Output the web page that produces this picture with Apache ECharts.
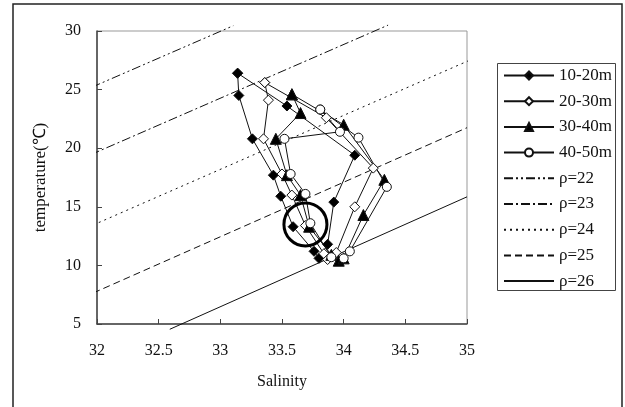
<!DOCTYPE html>
<html>
<head>
<meta charset="utf-8">
<script src="https://cdn.jsdelivr.net/npm/echarts@6/dist/echarts.min.js"></script>
<style>
  html, body { margin: 0; padding: 0; background: #fff; }
  #chart { width: 625px; height: 407px; }
</style>
</head>
<body>
<div id="chart"></div>
<script>
// T-S diagram: station loops per depth layer, with isopycnals (sigma-t lines)

const layerNames = ['10-20m', '20-30m', '30-40m', '40-50m'];

// salinity / temperature per layer (closed loops)
const sal10  = [33.14, 33.15, 33.26, 33.43, 33.49, 33.59, 33.76, 33.80, 33.87, 33.92, 34.09, 33.54, 33.14];
const temp10 = [26.4, 24.5, 20.8, 17.7, 15.9, 13.3, 11.2, 10.6, 11.8, 15.4, 19.4, 23.6, 26.4];

const sal20  = [33.36, 33.39, 33.35, 33.50, 33.58, 33.69, 33.84, 33.87, 33.94, 34.09, 34.24, 33.86, 33.36];
const temp20 = [25.6, 24.1, 20.8, 17.8, 16.0, 13.4, 11.0, 10.5, 11.1, 15.0, 18.3, 22.6, 25.6];

const sal30  = [33.58, 33.65, 33.45, 33.54, 33.65, 33.72, 33.90, 33.96, 34.00, 34.16, 34.33, 34.00, 33.58];
const temp30 = [24.6, 23.0, 20.8, 17.7, 16.0, 13.3, 10.9, 10.4, 10.6, 14.3, 17.3, 22.0, 24.6];

const sal40  = [33.81, 34.12, 34.35, 34.05, 34.00, 33.90, 33.73, 33.69, 33.57, 33.52, 33.97, 33.81];
const temp40 = [23.3, 20.9, 16.7, 11.2, 10.6, 10.7, 13.6, 16.1, 17.8, 20.8, 21.4, 23.3];

// isopycnal lines: end points (salinity, temperature)
const rhoNames = ['ρ=22', 'ρ=23', 'ρ=24', 'ρ=25', 'ρ=26'];
const rhoSal  = [[31.957, 33.105], [31.95, 34.36], [31.97, 35.02], [31.97, 35.0], [32.59, 35.0]];
const rhoTemp = [[25.2, 30.45], [19.45, 30.5], [13.45, 27.5], [7.65, 21.75], [4.55, 15.85]];

// highlighted water mass
const markSal = [33.69];
const markTemp = [13.5];

// axis ticks
const salTicks = [32, 32.5, 33, 33.5, 34, 34.5, 35];
const tempTicks = [5, 10, 15, 20, 25, 30];

const zip = (a, b) => a.map((v, i) => [v, b[i]]);
const FONT = 'Liberation Serif';

const layerStyles = [
  { symbol: 'diamond', size: 10, fill: '#000' },
  { symbol: 'diamond', size: 10, fill: '#fff' },
  { symbol: 'triangle', size: 11, fill: '#000' },
  { symbol: 'circle', size: 9, fill: '#fff' }
];
const layerData = [zip(sal10, temp10), zip(sal20, temp20), zip(sal30, temp30), zip(sal40, temp40)];

const rhoDash = [
  [9, 3, 2, 3, 2, 3],
  [9, 3, 2, 3],
  [2, 4],
  [7, 4],
  'solid'
];

const series = [];
rhoNames.forEach((name, i) => {
  series.push({
    name: name,
    type: 'line',
    data: zip(rhoSal[i], rhoTemp[i]),
    symbol: 'none',
    clip: false,
    lineStyle: { color: '#111', width: 1, type: rhoDash[i] },
    // invisible item colour so the legend shows the bare line
    itemStyle: { color: 'rgba(0,0,0,0)', borderWidth: 0 },
    z: 2
  });
});
layerNames.forEach((name, i) => {
  const st = layerStyles[i];
  series.push({
    name: name,
    type: 'line',
    data: layerData[i],
    symbol: st.symbol,
    symbolSize: st.size,
    showAllSymbol: true,
    lineStyle: { color: '#111', width: 1 },
    itemStyle: { color: st.fill, borderColor: '#111', borderWidth: 1 },
    z: 3
  });
});
series.push({
  name: 'mark',
  type: 'scatter',
  data: zip(markSal, markTemp),
  symbol: 'circle',
  symbolSize: 43,
  itemStyle: { color: 'rgba(255,255,255,0)', borderColor: '#000', borderWidth: 3, opacity: 1 },
  z: 5,
  silent: true
});

const chart = echarts.init(document.getElementById('chart'), null, { renderer: 'canvas' });
chart.setOption({
  animation: false,
  backgroundColor: '#fff',
  textStyle: { fontFamily: FONT },
  grid: {
    left: 97, top: 31, width: 370, height: 293,
    show: true, borderColor: '#999', borderWidth: 1, backgroundColor: 'transparent'
  },
  xAxis: {
    type: 'value',
    min: salTicks[0], max: salTicks[salTicks.length - 1], interval: 0.5,
    name: 'Salinity', nameLocation: 'middle', nameGap: 50,
    nameTextStyle: { fontFamily: FONT, fontSize: 16, color: '#111' },
    axisLine: { show: true, lineStyle: { color: '#444', width: 1.5 } },
    axisTick: { show: true, inside: true, length: 5, lineStyle: { color: '#444' } },
    axisLabel: { fontFamily: FONT, fontSize: 16, color: '#111', margin: 19,
      formatter: v => String(v) },
    splitLine: { show: false }
  },
  yAxis: {
    type: 'value',
    min: tempTicks[0], max: tempTicks[tempTicks.length - 1], interval: 5,
    name: 'temperature(℃)', nameLocation: 'middle', nameGap: 48,
    nameTextStyle: { fontFamily: FONT, fontSize: 17, color: '#111' },
    axisLine: { show: true, lineStyle: { color: '#444', width: 1.5 } },
    axisTick: { show: true, inside: true, length: 5, lineStyle: { color: '#444' } },
    axisLabel: { fontFamily: FONT, fontSize: 16, color: '#111', margin: 16 },
    splitLine: { show: false }
  },
  legend: {
    data: layerNames.concat(rhoNames),
    orient: 'vertical',
    left: 503, top: 67,
    padding: 0,
    itemWidth: 50, itemHeight: 10, itemGap: 8.7, itemTextGap: 4,
    textStyle: { fontFamily: FONT, fontSize: 17, color: '#111' },
    inactiveColor: '#111'
  },
  graphic: [
    { type: 'rect', shape: { x: 13, y: 4, width: 609, height: 430 },
      style: { fill: 'none', stroke: '#222', lineWidth: 1.5 }, silent: true },
    { type: 'rect', shape: { x: 497.5, y: 63.5, width: 118, height: 227 },
      style: { fill: 'none', stroke: '#444', lineWidth: 1 }, silent: true }
  ],
  series: series
});
</script>
</body>
</html>
